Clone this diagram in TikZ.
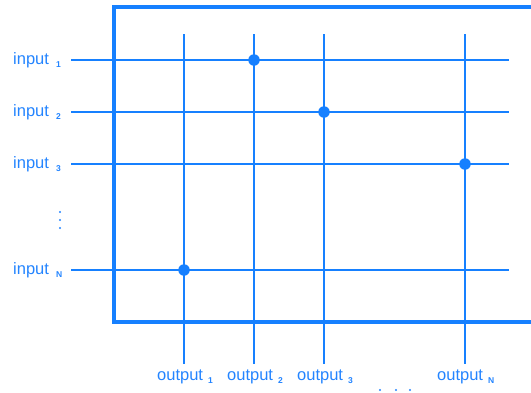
\documentclass[tikz,border=0pt]{standalone}
\usepackage{fontspec}
\setmainfont{Liberation Sans}
\definecolor{xb}{RGB}{22,128,255}
\definecolor{xt}{RGB}{35,132,255}
\begin{document}
\begin{tikzpicture}[x=1pt,y=-1pt,
  wire/.style={draw=xb,line width=2.8pt},
  frame/.style={draw=xb,line width=3.8pt},
  lbl/.style={text=xt,font=\fontsize{16.5}{16.5}\selectfont,inner sep=0pt,anchor=base west},
  sub/.style={text=xt,font=\fontsize{8.5}{8.5}\selectfont\bfseries,inner sep=0pt,anchor=base west},
  joint/.style={circle,fill=xb,inner sep=0pt,minimum size=11.5pt},
  dotc/.style={circle,fill=xt,inner sep=0pt,minimum size=2.4pt}]
\useasboundingbox (0,0) rectangle (531,392);
% frame
\draw[frame] (540,7) -- (114,7) -- (114,322) -- (540,322);
% input wires
\foreach \n/\y in {1/60,2/112,3/164,N/270}{
  \coordinate (iL\n) at (71,\y);
  \coordinate (iR\n) at (509,\y);
  \draw[wire] (iL\n) -- (iR\n);
}
% output wires
\foreach \n/\x in {1/184,2/254,3/324,N/465}{
  \coordinate (oT\n) at (\x,34);
  \coordinate (oB\n) at (\x,364);
  \draw[wire] (oT\n) -- (oB\n);
}
% crosspoints
\node[joint] (j1) at (254,60) {};
\node[joint] (j2) at (324,112) {};
\node[joint] (j3) at (465,164) {};
\node[joint] (jN) at (184,270) {};
% input labels
\foreach \n/\s/\y in {1/1/60,2/2/112,3/3/164,N/N/270}{
  \node[lbl] (in\n) at (13,\y+4) {input};
  \node[sub] (ins\n) at (56,\y+7) {\s};
}
% output labels
\foreach \n/\s/\x/\sx in {1/1/157/208,2/2/227/278,3/3/297/348,N/N/437/488}{
  \node[lbl] (out\n) at (\x,380) {output};
  \node[sub] (outs\n) at (\sx,383) {\s};
}
% ellipses
\node[dotc] (v1) at (60,212) {};
\node[dotc] (v2) at (60,220) {};
\node[dotc] (v3) at (60,228) {};
\node[dotc] (h1) at (380,390) {};
\node[dotc] (h2) at (396,390) {};
\node[dotc] (h3) at (410,390) {};
\end{tikzpicture}
\end{document}
